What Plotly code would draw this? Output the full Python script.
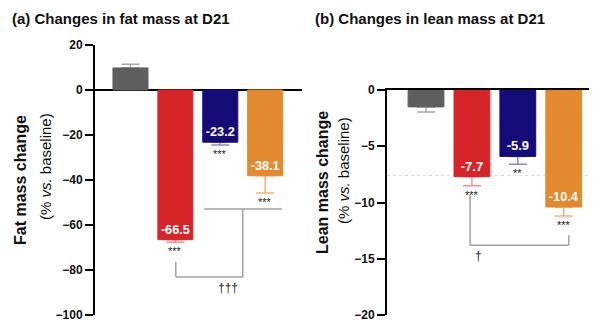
import plotly.graph_objects as go

groups = [0, 1, 2, 3]
colors = ["#5e5e5e", "#d72428", "#150c7a", "#e38a2f"]
err_colors = ["#a6a6a6", "#f09092", "#8d88cc", "#f5b26e"]

fat_values = [9.8, -66.5, -23.2, -38.1]
fat_err = [1.6, 1.2, 1.2, 7.7]
fat_stars = ["", "***", "***", "***"]
fat_labels = ["", "-66.5", "-23.2", "-38.1"]

lean_values = [-1.5, -7.7, -5.9, -10.4]
lean_err = [0.45, 0.8, 0.7, 0.8]
lean_stars = ["", "***", "**", "***"]
lean_labels = ["", "-7.7", "-5.9", "-10.4"]

fat_ticks = [20, 0, -20, -40, -60, -80, -100]
lean_ticks = [0, -5, -10, -15, -20]

fat_bracket = dict(left_x=1.01, right_x=2.5, right_top=-52.9, left_top=-76.4, bottom=-83.1,
                   arm_x0=1.64, arm_x1=3.37, label="†††", label_x=2.18)
lean_bracket = dict(left_x=0.96, right_x=3.11, left_top=-9.3, right_top=-12.9, bottom=-13.8,
                    label="†", label_x=1.14)
lean_ref_line = -7.6

SANS = "Liberation Sans, Arial, Helvetica"
W, H = 597, 324
OFF = 8  # page body margin


def px(x):
    return (x - OFF) / W


def py(y):
    return 1 - (y - OFF) / H


fig = go.Figure()


def add_panel(values, errs, labels, xa, ya):
    for i, (v, e) in enumerate(zip(values, errs)):
        up = [e] if v > 0 else [0]
        down = [0] if v > 0 else [e]
        fig.add_trace(go.Bar(
            x=[groups[i]], y=[v], xaxis=xa, yaxis=ya, width=0.78,
            marker=dict(color="rgba(0,0,0,0)", line=dict(width=0)),
            error_y=dict(type="data", symmetric=False, array=up, arrayminus=down,
                         color=err_colors[i], thickness=1.5, width=9),
            showlegend=False, hoverinfo="skip"))
    fig.add_trace(go.Bar(
        x=groups, y=values, xaxis=xa, yaxis=ya, width=0.78,
        marker=dict(color=colors, line=dict(width=1, color=colors)),
        text=labels, textposition="inside", insidetextanchor="end", textangle=0,
        textfont=dict(family=SANS, size=13, color="white", weight="bold"),
        cliponaxis=False, showlegend=False))


add_panel(fat_values, fat_err, fat_labels, "x", "y")
add_panel(lean_values, lean_err, lean_labels, "x2", "y2")

tickfont = dict(family=SANS, size=12, color="#111", weight="bold")
fig.update_layout(
    width=W, height=H, margin=dict(l=0, r=0, t=0, b=0, autoexpand=False),
    paper_bgcolor="white", plot_bgcolor="white", barmode="overlay",
    xaxis=dict(domain=[px(95), px(302)], range=[-0.79, 3.82], showticklabels=False,
               showgrid=False, zeroline=False, showline=False, ticks="", automargin=False),
    yaxis=dict(domain=[py(315), py(45)], range=[-100, 20], tickvals=fat_ticks,
               showgrid=False, zeroline=True, zerolinecolor="black", zerolinewidth=2,
               showline=True, linecolor="black", linewidth=2, ticks="outside", ticklen=8,
               tickwidth=2, tickcolor="black", tickfont=tickfont, anchor="x", automargin=False),
    xaxis2=dict(domain=[px(387), min(1.0, px(600))], range=[-0.85, 3.79], showticklabels=False,
                showgrid=False, zeroline=False, showline=True, linecolor="black", linewidth=2,
                side="top", ticks="", anchor="y2", automargin=False),
    yaxis2=dict(domain=[py(315), py(90)], range=[-20, 0], tickvals=lean_ticks,
                showgrid=False, zeroline=False, showline=True, linecolor="black", linewidth=2,
                ticks="outside", ticklen=8, tickwidth=2, tickcolor="black", tickfont=tickfont,
                anchor="x2", automargin=False),
)

starfont = dict(family=SANS, size=11, color="#222")
for vals, errs, stars, xr, yr in [(fat_values, fat_err, fat_stars, "x", "y"),
                                  (lean_values, lean_err, lean_stars, "x2", "y2")]:
    for i, (v, e, s) in enumerate(zip(vals, errs, stars)):
        if s:
            fig.add_annotation(x=groups[i], y=v - e, xref=xr, yref=yr, text=s, showarrow=False,
                               yanchor="top", yshift=-1, font=starfont)

gray = "#a3a3a3"
lw = 1.5
b = fat_bracket
for (x0, y0, x1, y1) in [(b["arm_x0"], b["right_top"], b["arm_x1"], b["right_top"]),
                         (b["right_x"], b["right_top"], b["right_x"], b["bottom"]),
                         (b["left_x"], b["bottom"], b["right_x"], b["bottom"]),
                         (b["left_x"], b["bottom"], b["left_x"], b["left_top"])]:
    fig.add_shape(type="line", x0=x0, y0=y0, x1=x1, y1=y1, xref="x", yref="y",
                  line=dict(color=gray, width=lw), layer="below")
fig.add_annotation(x=b["label_x"], y=b["bottom"], xref="x", yref="y", text=b["label"],
                   showarrow=False, yanchor="top", yshift=-2,
                   font=dict(family=SANS, size=12, color="#222"))
b = lean_bracket
for (x0, y0, x1, y1) in [(b["left_x"], b["left_top"], b["left_x"], b["bottom"]),
                         (b["left_x"], b["bottom"], b["right_x"], b["bottom"]),
                         (b["right_x"], b["bottom"], b["right_x"], b["right_top"])]:
    fig.add_shape(type="line", x0=x0, y0=y0, x1=x1, y1=y1, xref="x2", yref="y2",
                  line=dict(color=gray, width=lw), layer="below")
fig.add_annotation(x=b["label_x"], y=b["bottom"], xref="x2", yref="y2", text=b["label"],
                   showarrow=False, yanchor="top", yshift=-2,
                   font=dict(family=SANS, size=12, color="#222"))

fig.add_shape(type="line", x0=0, x1=1, xref="x2 domain", y0=lean_ref_line, y1=lean_ref_line,
              yref="y2", line=dict(color="#dcdcdc", width=1, dash="dot"), layer="below")

titlefont = dict(family=SANS, size=15, color="#111", weight="bold")
fig.add_annotation(x=px(10), y=1, xref="paper", yref="paper", xanchor="left",
                   yanchor="top", text="(a) Changes in fat mass at D21", showarrow=False,
                   font=titlefont)
fig.add_annotation(x=px(313), y=1, xref="paper", yref="paper", xanchor="left",
                   yanchor="top", text="(b) Changes in lean mass at D21", showarrow=False,
                   font=titlefont)

ytfont_b = dict(family=SANS, size=16, color="#111", weight="bold")
ytfont_n = dict(family=SANS, size=15, color="#111")
for (x1, y1, t1, x2, y2) in [(20, 180, "Fat mass change", 45, 167),
                             (322, 183, "Lean mass change", 343, 170)]:
    fig.add_annotation(x=px(x1), y=py(y1), xref="paper", yref="paper", text=t1,
                       textangle=-90, showarrow=False, xanchor="center", yanchor="middle",
                       font=ytfont_b)
    fig.add_annotation(x=px(x2), y=py(y2), xref="paper", yref="paper",
                       text="(% <i>vs.</i> baseline)", textangle=-90, showarrow=False,
                       xanchor="center", yanchor="middle", font=ytfont_n)

fig.write_html("out.html")
